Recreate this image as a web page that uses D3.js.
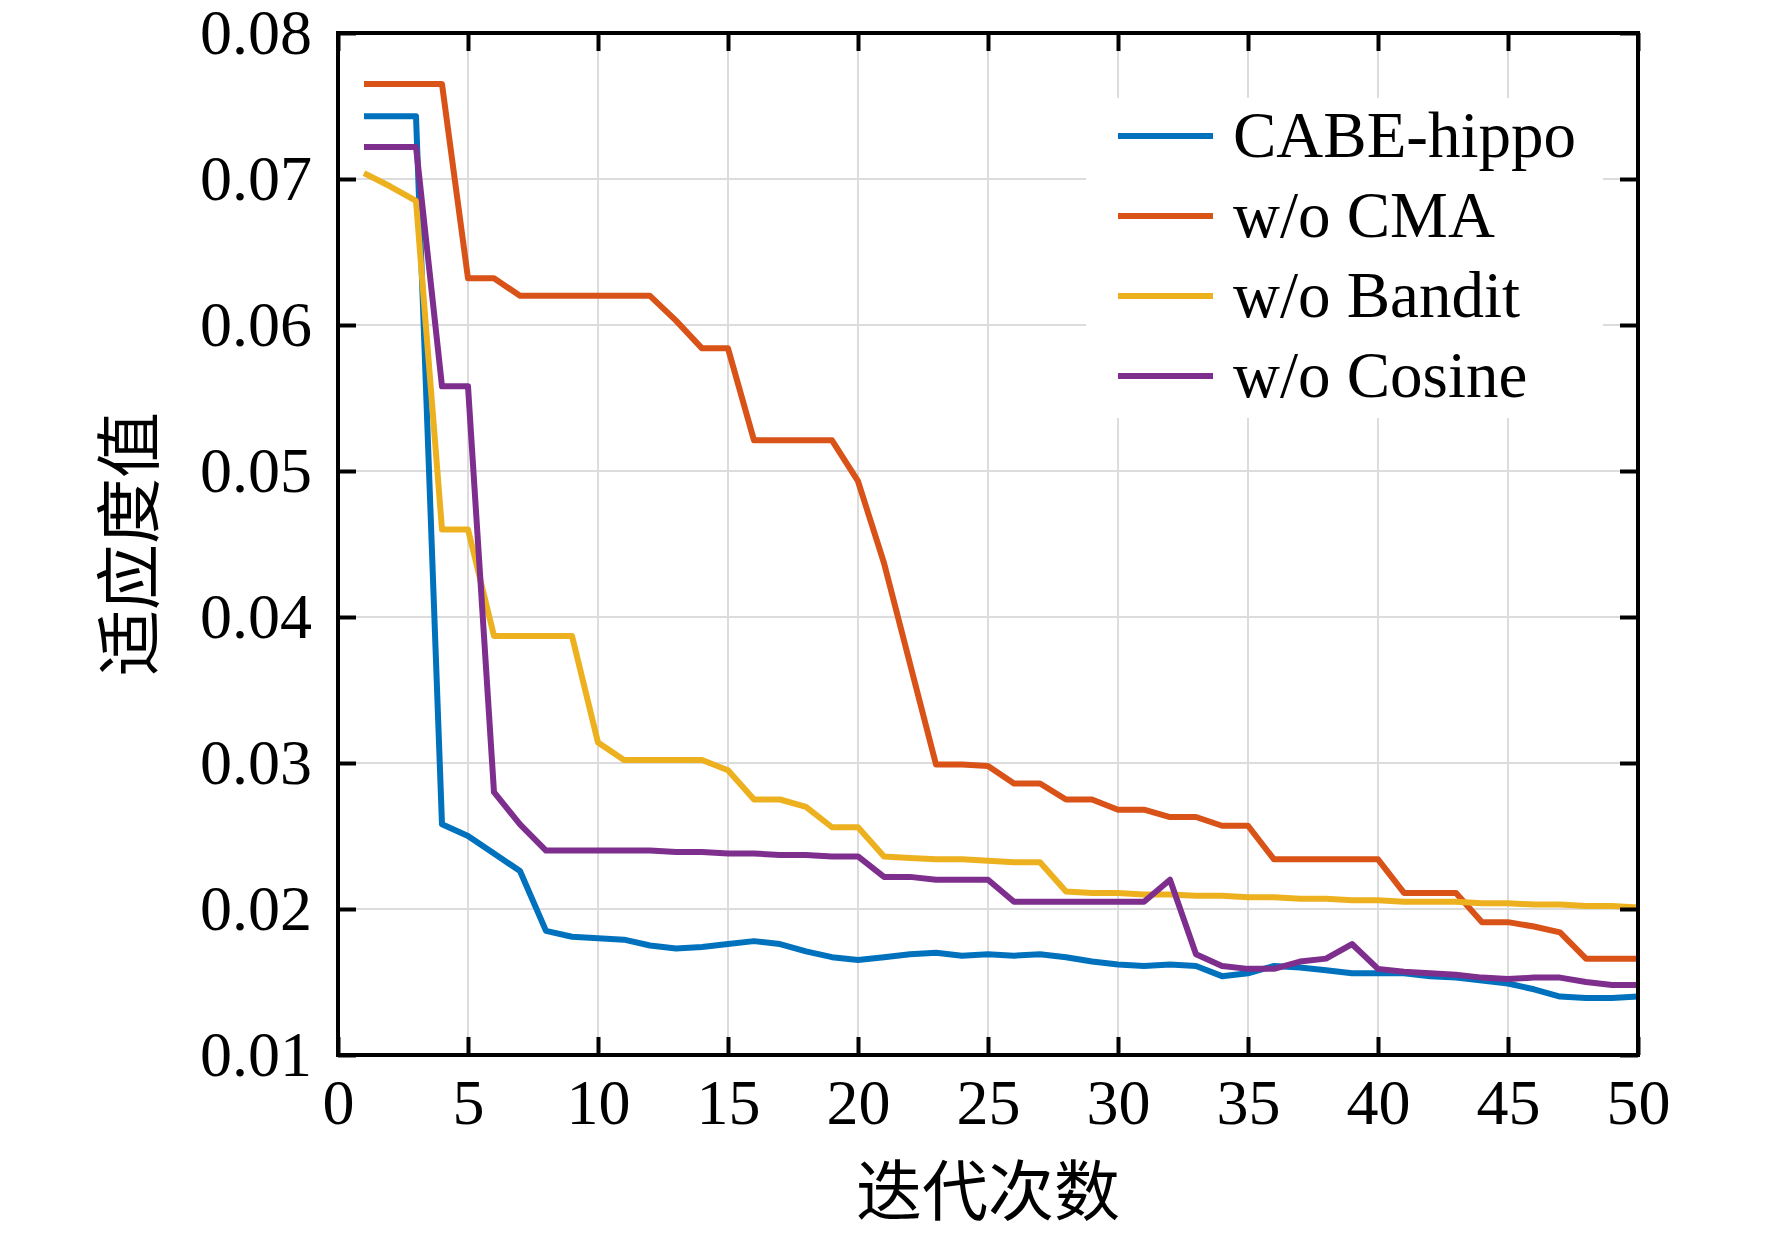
<!DOCTYPE html>
<html>
<head>
<meta charset="utf-8">
<script src="https://cdn.jsdelivr.net/npm/d3@7"></script>
<style>
	body { margin: 0; background: #fff; }
	svg text { font-family: 'Liberation Serif', 'Times New Roman', serif; fill: #000; }
	.cjk { font-family: 'Noto Sans CJK SC', sans-serif; }
</style>
</head>
<body>
<svg id="chart" width="1772" height="1234"></svg>
<script>
const iterations = [1, 2, 3, 4, 5, 6, 7, 8, 9, 10, 11, 12, 13, 14, 15, 16, 17, 18, 19, 20,
	21, 22, 23, 24, 25, 26, 27, 28, 29, 30, 31, 32, 33, 34, 35, 36, 37, 38, 39, 40,
	41, 42, 43, 44, 45, 46, 47, 48, 49, 50];

const cabeHippo = [0.0743, 0.0743, 0.0743, 0.0258, 0.0250, 0.0238, 0.0226, 0.0185, 0.0181, 0.0180,
	0.0179, 0.0175, 0.0173, 0.0174, 0.0176, 0.0178, 0.0176, 0.0171, 0.0167, 0.0165,
	0.0167, 0.0169, 0.0170, 0.0168, 0.0169, 0.0168, 0.0169, 0.0167, 0.0164, 0.0162,
	0.0161, 0.0162, 0.0161, 0.0154, 0.0156, 0.0161, 0.0160, 0.0158, 0.0156, 0.0156,
	0.0156, 0.0154, 0.0153, 0.0151, 0.0149, 0.0145, 0.0140, 0.0139, 0.0139, 0.0140];

const woCMA = [0.0765, 0.0765, 0.0765, 0.0765, 0.0632, 0.0632, 0.0620, 0.0620, 0.0620, 0.0620,
	0.0620, 0.0620, 0.0603, 0.0584, 0.0584, 0.0521, 0.0521, 0.0521, 0.0521, 0.0493,
	0.0437, 0.0368, 0.0299, 0.0299, 0.0298, 0.0286, 0.0286, 0.0275, 0.0275, 0.0268,
	0.0268, 0.0263, 0.0263, 0.0257, 0.0257, 0.0234, 0.0234, 0.0234, 0.0234, 0.0234,
	0.0211, 0.0211, 0.0211, 0.0191, 0.0191, 0.0188, 0.0184, 0.0166, 0.0166, 0.0166];

const woBandit = [0.0704, 0.0695, 0.0685, 0.0460, 0.0460, 0.0387, 0.0387, 0.0387, 0.0387, 0.0314,
	0.0302, 0.0302, 0.0302, 0.0302, 0.0295, 0.0275, 0.0275, 0.0270, 0.0256, 0.0256,
	0.0236, 0.0235, 0.0234, 0.0234, 0.0233, 0.0232, 0.0232, 0.0212, 0.0211, 0.0211,
	0.0210, 0.0210, 0.0209, 0.0209, 0.0208, 0.0208, 0.0207, 0.0207, 0.0206, 0.0206,
	0.0205, 0.0205, 0.0205, 0.0204, 0.0204, 0.0203, 0.0203, 0.0202, 0.0202, 0.0201];

const woCosine = [0.0722, 0.0722, 0.0722, 0.0558, 0.0558, 0.0280, 0.0258, 0.0240, 0.0240, 0.0240,
	0.0240, 0.0240, 0.0239, 0.0239, 0.0238, 0.0238, 0.0237, 0.0237, 0.0236, 0.0236,
	0.0222, 0.0222, 0.0220, 0.0220, 0.0220, 0.0205, 0.0205, 0.0205, 0.0205, 0.0205,
	0.0205, 0.0220, 0.0169, 0.0161, 0.0159, 0.0159, 0.0164, 0.0166, 0.0176, 0.0159,
	0.0157, 0.0156, 0.0155, 0.0153, 0.0152, 0.0153, 0.0153, 0.0150, 0.0148, 0.0148];

const seriesNames = ['CABE-hippo', 'w/o CMA', 'w/o Bandit', 'w/o Cosine'];
const seriesColors = ['#0072BD', '#D95319', '#EDB120', '#7E2F8E'];
const xTicks = [0, 5, 10, 15, 20, 25, 30, 35, 40, 45, 50];
const yTicks = [0.01, 0.02, 0.03, 0.04, 0.05, 0.06, 0.07, 0.08];
const xLabel = '迭代次数';
const yLabel = '适应度值';

const series = [cabeHippo, woCMA, woBandit, woCosine].map((values, i) => ({
	name: seriesNames[i],
	color: seriesColors[i],
	points: iterations.map((it, j) => ({ x: it, y: values[j] }))
}));

// Layout
const margin = { left: 338, right: 134, top: 33, bottom: 179 };
const svg = d3.select('#chart');
const width = 1772 - margin.left - margin.right;
const height = 1234 - margin.top - margin.bottom;
const g = svg.append('g').attr('transform', `translate(${margin.left},${margin.top})`);

const x = d3.scaleLinear().domain([0, 50]).range([0, width]);
const y = d3.scaleLinear().domain([0.01, 0.08]).range([height, 0]);

// Grid
const grid = g.append('g').attr('class', 'grid');
grid.selectAll('.gx').data(xTicks.slice(1, -1)).join('line')
	.attr('x1', d => x(d)).attr('x2', d => x(d))
	.attr('y1', 0).attr('y2', height)
	.attr('stroke', '#dcdcdc').attr('stroke-width', 2);
grid.selectAll('.gy').data(yTicks.slice(1, -1)).join('line')
	.attr('x1', 0).attr('x2', width)
	.attr('y1', d => y(d)).attr('y2', d => y(d))
	.attr('stroke', '#dcdcdc').attr('stroke-width', 2);

// Lines
const line = d3.line().x(d => x(d.x)).y(d => y(d.y));
g.selectAll('.series').data(series).join('path')
	.attr('class', 'series')
	.attr('d', d => line(d.points))
	.attr('fill', 'none')
	.attr('stroke', d => d.color)
	.attr('stroke-width', 6)
	.attr('stroke-linejoin', 'round');

// Legend
const legend = g.append('g').attr('transform', `translate(${1086 - margin.left},${98 - margin.top})`);
legend.append('rect')
	.attr('width', 517).attr('height', 320)
	.attr('fill', '#fff');
const rows = legend.selectAll('.row').data(series).join('g')
	.attr('transform', (d, i) => `translate(0,${38 + i * 80})`);
rows.append('line')
	.attr('x1', 32).attr('x2', 127)
	.attr('stroke', d => d.color).attr('stroke-width', 6);
rows.append('text')
	.attr('x', 147).attr('dy', '0.33em')
	.attr('font-size', 65)
	.text(d => d.name);

// Axes with inward ticks on all four sides
const tick = 18;
function styleAxis (sel) {
	sel.select('.domain').remove();
	sel.selectAll('.tick line').attr('stroke', '#000').attr('stroke-width', 4);
	sel.selectAll('text').attr('font-size', 64).attr('font-family', "'Liberation Serif', serif");
}

g.append('g').attr('transform', `translate(0,${height})`)
	.call(d3.axisBottom(x).tickValues(xTicks).tickSize(-tick).tickPadding(24).tickFormat(d3.format('d')))
	.call(styleAxis);
g.append('g')
	.call(d3.axisTop(x).tickValues(xTicks).tickSize(-tick).tickFormat(''))
	.call(styleAxis);
g.append('g')
	.call(d3.axisLeft(y).tickValues(yTicks).tickSize(-tick).tickPadding(26).tickFormat(d3.format('.2f')))
	.call(styleAxis);
g.append('g').attr('transform', `translate(${width},0)`)
	.call(d3.axisRight(y).tickValues(yTicks).tickSize(-tick).tickFormat(''))
	.call(styleAxis);

g.append('rect')
	.attr('width', width).attr('height', height)
	.attr('fill', 'none').attr('stroke', '#000').attr('stroke-width', 4);

// Axis titles
svg.append('text')
	.attr('class', 'cjk')
	.attr('x', margin.left + width / 2).attr('y', 1192)
	.attr('dy', '0.35em')
	.attr('text-anchor', 'middle')
	.attr('font-size', 66)
	.text(xLabel);

svg.append('text')
	.attr('class', 'cjk')
	.attr('transform', 'translate(130,544) rotate(-90)')
	.attr('dy', '0.35em')
	.attr('text-anchor', 'middle')
	.attr('font-size', 66)
	.text(yLabel);
</script>
</body>
</html>
